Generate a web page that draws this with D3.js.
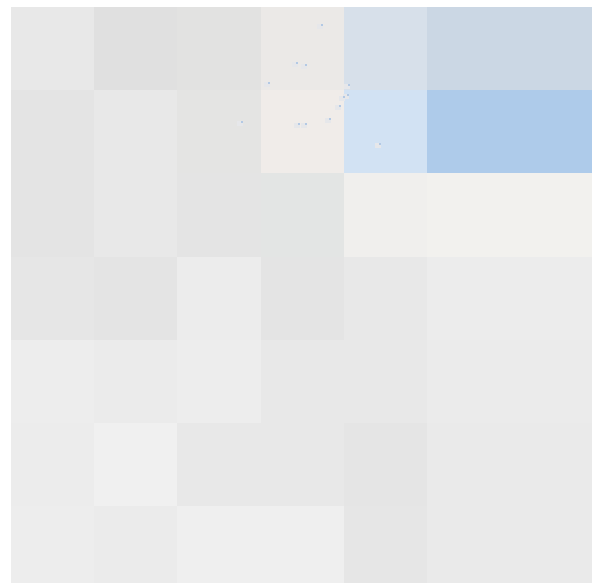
<!DOCTYPE html>
<html>
  <head>
    <meta charset="UTF-8">
    <title>Tile grid</title>
    <style>
      body { margin: 0; background: #fff; overflow: hidden; }
      svg { display: block; }
    </style>
  </head>
  <body>
    <svg></svg>
    <script src="https://d3js.org/d3.v7.min.js"></script>
    <script>

// grid layout: 7 columns x 7 rows of tiles
var cols = ["c0", "c1", "c2", "c3", "c4", "c5", "c6"];
var rows = ["r0", "r1", "r2", "r3", "r4", "r5", "r6"];

// tile colours, row by row
var row0 = ["#e8e8e8", "#e0e0e0", "#e2e2e1", "#ebe9e7", "#d7e0ea", "#cbd7e4", "#cbd7e4"];
var row1 = ["#e4e4e4", "#e8e8e8", "#e4e4e3", "#f0ece9", "#d2e2f3", "#aecbea", "#aecbea"];
var row2 = ["#e4e4e4", "#e8e8e8", "#e4e4e4", "#e3e5e4", "#f0efed", "#f2f1ee", "#f2f1ee"];
var row3 = ["#e6e6e6", "#e4e4e4", "#ececec", "#e4e4e4", "#e8e8e8", "#ececec", "#ececec"];
var row4 = ["#ededed", "#ebebeb", "#ededed", "#e8e8e8", "#e8e8e8", "#ebebeb", "#ebebeb"];
var row5 = ["#ececec", "#f0f0f0", "#e8e8e8", "#e8e8e8", "#e5e5e5", "#eaeaea", "#eaeaea"];
var row6 = ["#ededed", "#ebebeb", "#efefef", "#efefef", "#e6e6e6", "#eaeaea", "#eaeaea"];

// small specks, in grid units
var speckX = [3.71, 3.41, 3.52, 3.08, 4.04, 4.03, 3.98, 3.93, 3.81, 3.44, 3.52, 2.75, 4.41];
var speckY = [0.23, 0.69, 0.71, 0.93, 0.95, 1.07, 1.09, 1.20, 1.36, 1.42, 1.42, 1.39, 1.66];

var config = {
  "width": 592,
  "height": 583,
  "left": 11,
  "top": 7,
  "cell": 83.2
};

var svg = d3.select("svg")
  .attr("width", config.width)
  .attr("height", config.height);

var x = d3.scaleBand()
  .domain(cols)
  .range([config.left, config.left + config.cell * cols.length]);

var y = d3.scaleBand()
  .domain(rows)
  .range([config.top, config.top + config.cell * rows.length]);

// unit scales for specks
var ux = d3.scaleLinear().domain([0, cols.length]).range(x.range());
var uy = d3.scaleLinear().domain([0, rows.length]).range(y.range());

var colours = [row0, row1, row2, row3, row4, row5, row6];
var tiles = [];
rows.forEach(function(r, i) {
  cols.forEach(function(c, j) {
    tiles.push({ row: r, col: c, fill: colours[i][j] });
  });
});

svg.append("g")
  .attr("shape-rendering", "crispEdges")
  .selectAll("rect")
  .data(tiles)
  .enter().append("rect")
    .attr("x", function(d) { return x(d.col); })
    .attr("y", function(d) { return y(d.row); })
    .attr("width", x.bandwidth() + 1)
    .attr("height", y.bandwidth() + 1)
    .attr("fill", function(d) { return d.fill; });

var specks = speckX.map(function(v, i) { return { u: v, v: speckY[i] }; });

var sg = svg.append("g")
  .attr("shape-rendering", "crispEdges")
  .selectAll("g")
  .data(specks)
  .enter().append("g")
    .attr("transform", function(d) { return "translate(" + Math.round(ux(d.u)) + "," + Math.round(uy(d.v)) + ")"; });

sg.append("rect")
  .attr("x", -3).attr("y", -2)
  .attr("width", 6).attr("height", 5)
  .attr("fill", "#e6e7ea");
sg.append("rect")
  .attr("x", 1).attr("y", -2)
  .attr("width", 2).attr("height", 2)
  .attr("fill", "#b3c9e4");

    </script>
  </body>
</html>
